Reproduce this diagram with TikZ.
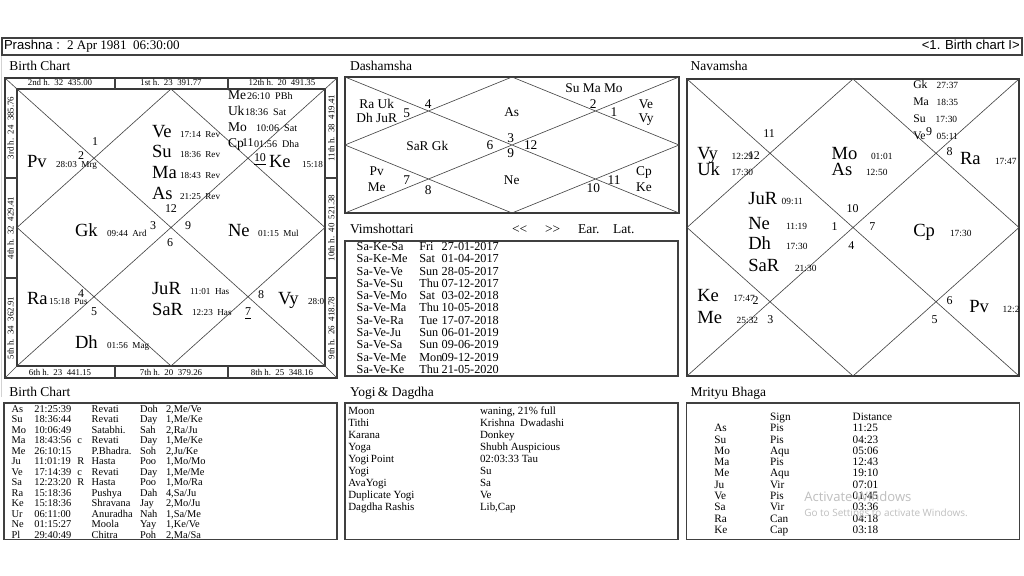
\documentclass[tikz,border=0pt]{standalone}
\usepackage{fontspec}
\setmainfont{Liberation Serif}
\setsansfont{Liberation Sans}
\newfontfamily\wmfont{Open Sans}
\newcommand\FBig{\fontsize{13.2}{14}\selectfont}
\newcommand\FNav{\fontsize{13.2}{14}\selectfont}
\newcommand\FMid{\fontsize{9.6}{10}\selectfont}
\newcommand\FMsm{\fontsize{7.2}{8}\selectfont}
\newcommand\FNmid{\fontsize{8.3}{9}\selectfont}
\newcommand\FSm{\fontsize{6.5}{7}\selectfont}
\newcommand\FNsm{\fontsize{6.7}{7}\selectfont}
\newcommand\FHouse{\fontsize{8.5}{9}\selectfont}
\newcommand\FStrip{\fontsize{6.3}{7}\selectfont}
\newcommand\FTitle{\fontsize{9.6}{11}\selectfont}
\newcommand\FHead{\fontsize{9.3}{10}\selectfont}
\newcommand\FDash{\fontsize{9.5}{10}\selectfont}
\newcommand\FVim{\fontsize{8.7}{9}\selectfont}
\newcommand\FTab{\fontsize{7.4}{8}\selectfont}
\newcommand\FYogi{\fontsize{7.8}{8}\selectfont}
\newcommand\FMrit{\fontsize{8}{8}\selectfont}
\newcommand\BRow[8]{%
  \node[txt] (bta#1) at (11.7,#2) {#3};
  \node[txt] (btb#1) at (34.3,#2) {#4};
  \node[txt] (btc#1) at (77.3,#2) {#5};
  \node[txt] (btd#1) at (91.7,#2) {#6};
  \node[txt] (bte#1) at (140,#2) {#7};
  \node[txt] (btf#1) at (166,#2) {#8};}
\newcommand\YRow[4]{%
  \node[txt] (yka#1) at (348.3,#2) {#3};
  \node[txt] (ykb#1) at (480,#2) {#4};}
\newcommand\BPl[6]{%
  \node[txt,font=\FBig] (#1) at (#2,#3) {#4};
  \node[txt,font=\FSm] (#1s) at (#5,#3) {#6};}
\newcommand\MPl[6]{%
  \node[txt,font=\FMid] (#1) at (#2,#3) {#4};
  \node[txt,font=\FMsm] (#1s) at (#5,#3) {#6};}
\newcommand\NPl[6]{%
  \node[txt,font=\FNav] (#1) at (#2,#3) {#4};
  \node[txt,font=\FNsm] (#1s) at (#5,#3) {#6};}
\newcommand\NMPl[6]{%
  \node[txt,font=\FNmid] (#1) at (#2,#3) {#4};
  \node[txt,font=\FNsm] (#1s) at (#5,#3) {#6};}
\newcommand\HN[4]{\node[txt,font=\FHouse] (#1) at (#2,#3) {#4};}
\newcommand\DN[4]{\node[ctr,font=\FDash] (#1) at (#2,#3) {#4};}
\begin{document}
\begin{tikzpicture}[x=0.025cm,y=-0.025cm,
  txt/.style={anchor=base west,inner sep=0pt,outer sep=0pt},
  ctr/.style={anchor=base,inner sep=0pt,outer sep=0pt},
  frame/.style={draw=gray!45!black,line width=1.2pt},
  tframe/.style={draw=gray!50!black,line width=0.8pt},
  cline/.style={draw=gray!55!black,line width=0.45pt},
  ]
\useasboundingbox (0,0) rectangle (1024,576);
\fill[white] (0,0) rectangle (1024,576);
% outer light frame
\draw[gray!35,line width=0.6pt] (1.5,397) -- (1.5,37);
% top bar
\draw[tframe] (2,38) rectangle (1022,55);
\node[txt,font=\sffamily\FHead] (prl) at (4,50) {Prashna :};
\node[txt,font=\FHead] (prd) at (67,50) {2 Apr 1981\ \ 06:30:00};
\node[anchor=base east,inner sep=0pt,font=\sffamily\FHead] (prr) at (1020,50) {<1. Birth chart I>};

% titles
\node[txt,font=\FTitle] (t1) at (9.3,71) {Birth Chart};
\node[txt,font=\FTitle] (t2) at (350,71) {Dashamsha};
\node[txt,font=\FTitle] (t3) at (690.7,71) {Navamsha};
\node[txt,font=\FTitle] (t4) at (350,233.3) {Vimshottari};
\node[txt,font=\FTitle] (t4a) at (512,233.3) {<{}<};
\node[txt,font=\FTitle] (t4b) at (545,233.3) {>{}>};
\node[txt,font=\FTitle] (t4c) at (578,233.3) {Ear.};
\node[txt,font=\FTitle] (t4d) at (613,233.3) {Lat.};
\node[txt,font=\FTitle] (t5) at (9.3,396.7) {Birth Chart};
\node[txt,font=\FTitle] (t6) at (350,396.7) {Yogi\,\& Dagdha};
\node[txt,font=\FTitle] (t7) at (690.7,396.7) {Mrityu Bhaga};

% ===== Birth chart =====
\draw[frame] (5,78) rectangle (337,378);
\draw[frame] (17,89) rectangle (325,366);
\draw[tframe] (115,78) -- (115,89) (228,78) -- (228,89)
  (115,366) -- (115,378) (228,366) -- (228,378)
  (5,178) -- (17,178) (5,278) -- (17,278)
  (325,178) -- (337,178) (325,278) -- (337,278);
\draw[cline] (5,78) -- (17,89) (337,78) -- (325,89) (5,378) -- (17,366) (337,378) -- (325,366);
\draw[cline] (17,89) -- (325,366) (17,366) -- (325,89)
  (171,89) -- (325,227.5) -- (171,366) -- (17,227.5) -- cycle;
\begin{scope}[font=\FStrip]
\node[ctr] (s1) at (60,86) {2nd h.\ \ 32\ \ 435.00};
\node[ctr] (s2) at (171,86) {1st h.\ \ 23\ \ 391.77};
\node[ctr] (s3) at (282,86) {12th h.\ \ 20\ \ 491.35};
\node[ctr] (s4) at (60,375) {6th h.\ \ 23\ \ 441.15};
\node[ctr] (s5) at (171,375) {7th h.\ \ 20\ \ 379.26};
\node[ctr] (s6) at (282,375) {8th h.\ \ 25\ \ 348.16};
\node[inner sep=0pt,rotate=90] (s7) at (10.6,128) {3rd h.\ \ 24\ \ 385.76};
\node[inner sep=0pt,rotate=90] (s8) at (10.6,228) {4th h.\ \ 32\ \ 429.41};
\node[inner sep=0pt,rotate=90] (s9) at (10.6,328) {5th h.\ \ 34\ \ 362.91};
\node[inner sep=0pt,rotate=90] (s10) at (331.4,128) {11th h.\ \ 38\ \ 419.41};
\node[inner sep=0pt,rotate=90] (s11) at (331.4,228) {10th h.\ \ 40\ \ 521.38};
\node[inner sep=0pt,rotate=90] (s12) at (331.4,328) {9th h.\ \ 26\ \ 418.78};
\end{scope}
\begin{scope}
\clip (17,89) rectangle (325,366);
\BPl{bVe}{152}{137.7}{Ve}{180}{17:14\ \ Rev}
\BPl{bSu}{152}{158}{Su}{180}{18:36\ \ Rev}
\BPl{bMa}{152}{179}{Ma}{180}{18:43\ \ Rev}
\BPl{bAs}{152}{200}{As}{180}{21:25\ \ Rev}
\BPl{bPv}{27}{168}{Pv}{56}{28:03\ \ Mrg}
\BPl{bGk}{75}{237}{Gk}{107}{09:44\ \ Ard}
\BPl{bNe}{228}{237}{Ne}{258}{01:15\ \ Mul}
\BPl{bKe}{269}{168}{Ke}{302}{15:18}
\BPl{bRa}{27}{305}{Ra}{49}{15:18\ \ Pus}
\BPl{bJu}{152}{295}{JuR}{190}{11:01\ \ Has}
\BPl{bSa}{152}{316}{SaR}{192}{12:23\ \ Has}
\BPl{bVy}{278}{305}{Vy}{308}{28:0}
\BPl{bDh}{75}{349}{Dh}{107}{01:56\ \ Mag}
\MPl{bMe}{228}{99.5}{Me}{247}{26:10\ \ PBh}
\MPl{bUk}{228}{116}{Uk}{245}{18:36\ \ Sat}
\MPl{bMo}{228}{132}{Mo}{256}{10:06\ \ Sat}
\MPl{bCp}{228}{148}{Cp}{254}{01:56\ \ Dha}
\HN{bh1}{92}{146}{1}
\HN{bh2}{78}{160}{2}
\HN{bh11}{242}{147}{11}
\HN{bh10}{254}{162}{\underline{10}}
\HN{bh12}{165}{213}{12}
\HN{bh3}{150}{230}{3}
\HN{bh9}{185}{230}{9}
\HN{bh6}{167}{247}{6}
\HN{bh4}{78}{298}{4}
\HN{bh5}{91}{316}{5}
\HN{bh8}{258}{299}{8}
\HN{bh7}{245}{316}{\underline{7}}
\end{scope}

% ===== Dashamsha =====
\draw[frame] (345,77) rectangle (679,213);
\draw[cline] (345,77) -- (679,213) (345,213) -- (679,77)
  (512,77) -- (679,145) -- (512,213) -- (345,145) -- cycle;
\DN{dSu}{594}{92.5}{Su Ma Mo}
\DN{d2}{593.3}{108.7}{2}
\DN{d1}{614}{116.7}{1}
\DN{dVe}{646}{108.7}{Ve}
\DN{dVy}{646}{122.7}{Vy}
\DN{dRa}{376.7}{108.7}{Ra Uk}
\DN{dDh}{376.7}{122.7}{Dh JuR}
\DN{d5}{406.7}{117.7}{5}
\DN{d4}{428.3}{108.7}{4}
\DN{dAs}{511.7}{116.7}{As}
\DN{d3}{510.7}{142.7}{3}
\DN{d6}{490}{149.4}{6}
\DN{d12}{530.7}{149.4}{12}
\DN{d9}{510.7}{157.7}{9}
\DN{dSa}{427.3}{150.4}{SaR Gk}
\DN{dPv}{376.7}{176}{Pv}
\DN{dMe}{376.7}{191.7}{Me}
\DN{d7}{406.7}{184.4}{7}
\DN{d8}{428.3}{194.4}{8}
\DN{dNe}{511.7}{184.4}{Ne}
\DN{d10}{593.3}{192.7}{10}
\DN{d11}{614}{184.4}{11}
\DN{dCp}{644}{176}{Cp}
\DN{dKe}{644}{191.7}{Ke}

% ===== Vimshottari =====
\draw[tframe] (345,241) rectangle (678,376);
\begin{scope}[font=\FVim]
\foreach \a/\b/\c [count=\i from 0] in {Sa-Ke-Sa/Fri/27-01-2017,Sa-Ke-Me/Sat/01-04-2017,Sa-Ve-Ve/Sun/28-05-2017,Sa-Ve-Su/Thu/07-12-2017,Sa-Ve-Mo/Sat/03-02-2018,Sa-Ve-Ma/Thu/10-05-2018,Sa-Ve-Ra/Tue/17-07-2018,Sa-Ve-Ju/Sun/06-01-2019,Sa-Ve-Sa/Sun/09-06-2019,Sa-Ve-Me/Mon/09-12-2019,Sa-Ve-Ke/Thu/21-05-2020}{
  \node[txt] (vna\i) at (356.7,{250.7+12.26*\i}) {\a};
  \node[txt] (vnb\i) at (419.3,{250.7+12.26*\i}) {\b};
  \node[txt] (vnc\i) at (441.7,{250.7+12.26*\i}) {\c};
}
\end{scope}

% ===== Navamsha =====
\draw[frame] (687,79) rectangle (1019,376);
\draw[cline] (687,79) -- (1019,376) (687,376) -- (1019,79)
  (853,79) -- (1019,227.5) -- (853,376) -- (687,227.5) -- cycle;
\begin{scope}
\clip (687,79) rectangle (1019,376);
\NMPl{nGk}{913.3}{88.7}{Gk}{936.7}{27:37}
\NMPl{nMa}{913.3}{105.3}{Ma}{936.7}{18:35}
\NMPl{nSu}{913.3}{122.3}{Su}{935.7}{17:30}
\NMPl{nVe}{913.3}{139.3}{Ve}{936.7}{05:11}
\NPl{nVy}{697.3}{159.5}{Vy}{731.7}{12:29}
\NPl{nUk}{697.3}{176}{Uk}{731.7}{17:30}
\NPl{nMo}{831.7}{159.5}{Mo}{871}{01:01}
\NPl{nAs}{831.7}{176}{As}{866}{12:50}
\NPl{nRa}{960}{164.3}{Ra}{995}{17:47}
\NPl{nJu}{748.3}{205}{JuR}{781.7}{09:11}
\NPl{nNe}{748.3}{229.3}{Ne}{786}{11:19}
\NPl{nDh}{748.3}{249.3}{Dh}{786}{17:30}
\NPl{nSa}{748.3}{271.7}{SaR}{795}{21:30}
\NPl{nCp}{913.3}{236.7}{Cp}{950}{17:30}
\NPl{nKe}{697.3}{301.7}{Ke}{733.3}{17:47}
\NPl{nMe}{697.3}{323.3}{Me}{736.7}{25:32}
\NPl{nPv}{969.3}{312.7}{Pv}{1002.7}{12:2}
\HN{nh9}{926}{136}{9}
\HN{nh11}{763.3}{137.7}{11}
\HN{nh12}{748}{160}{12}
\HN{nh8}{946.7}{156}{8}
\HN{nh10}{846.7}{212.7}{10}
\HN{nh1}{831.7}{230.7}{1}
\HN{nh7}{869.3}{230.7}{7}
\HN{nh4}{848.3}{249.3}{4}
\HN{nh2}{752.7}{305}{2}
\HN{nh3}{767.3}{323.3}{3}
\HN{nh6}{946.7}{305}{6}
\HN{nh5}{931.7}{323.3}{5}
\end{scope}

% ===== Birth chart table =====
\draw[tframe] (4,403) rectangle (337,539.5);
\begin{scope}[font=\FTab]
\BRow{0}{412.3}{As}{21:25:39}{}{Revati}{Doh}{2,Me/Ve}
\BRow{1}{422.8}{Su}{18:36:44}{}{Revati}{Day}{1,Me/Ke}
\BRow{2}{433.3}{Mo}{10:06:49}{}{Satabhi.}{Sah}{2,Ra/Ju}
\BRow{3}{443.8}{Ma}{18:43:56}{c}{Revati}{Day}{1,Me/Ke}
\BRow{4}{454.3}{Me}{26:10:15}{}{P.Bhadra.}{Soh}{2,Ju/Ke}
\BRow{5}{464.8}{Ju}{11:01:19}{R}{Hasta}{Poo}{1,Mo/Mo}
\BRow{6}{475.3}{Ve}{17:14:39}{c}{Revati}{Day}{1,Me/Me}
\BRow{7}{485.8}{Sa}{12:23:20}{R}{Hasta}{Poo}{1,Mo/Ra}
\BRow{8}{496.3}{Ra}{15:18:36}{}{Pushya}{Dah}{4,Sa/Ju}
\BRow{9}{506.8}{Ke}{15:18:36}{}{Shravana}{Jay}{2,Mo/Ju}
\BRow{10}{517.3}{Ur}{06:11:00}{}{Anuradha}{Nah}{1,Sa/Me}
\BRow{11}{527.8}{Ne}{01:15:27}{}{Moola}{Yay}{1,Ke/Ve}
\BRow{12}{538.3}{Pl}{29:40:49}{}{Chitra}{Poh}{2,Ma/Sa}
\end{scope}

% ===== Yogi & Dagdha =====
\draw[tframe] (345,403) rectangle (678,539.5);
\begin{scope}[font=\FYogi]
\YRow{0}{414}{Moon}{waning, 21\% full}
\YRow{1}{426}{Tithi}{Krishna\ \ Dwadashi}
\YRow{2}{438}{Karana}{Donkey}
\YRow{3}{450}{Yoga}{Shubh Auspicious}
\YRow{4}{462}{Yogi\,Point}{02:03:33 Tau}
\YRow{5}{474}{Yogi}{Su}
\YRow{6}{486}{AvaYogi}{Sa}
\YRow{7}{498}{Duplicate Yogi}{Ve}
\YRow{8}{510}{Dagdha Rashis}{Lib,Cap}
\end{scope}

% ===== Mrityu Bhaga =====
\draw[tframe] (686.7,403) rectangle (1019.3,539.5);
\begin{scope}[font=\FMrit]
\node[txt] (mhs) at (770,420.7) {Sign};
\node[txt] (mhd) at (852.7,420.7) {Distance};
\foreach \a/\b/\c [count=\i from 0] in {As/Pis/11:25,Su/Pis/04:23,Mo/Aqu/05:06,Ma/Pis/12:43,Me/Aqu/19:10,Ju/Vir/07:01,Ve/Pis/01:45,Sa/Vir/03:36,Ra/Can/04:18,Ke/Cap/03:18}{
  \node[txt] (mra\i) at (714.3,{431.7+11.3*\i}) {\a};
  \node[txt] (mrb\i) at (770,{431.7+11.3*\i}) {\b};
  \node[txt] (mrc\i) at (852.7,{431.7+11.3*\i}) {\c};
}
\end{scope}
\node[txt,text=gray!50,font=\wmfont\fontsize{9.3}{10}\selectfont] (wm1) at (804.3,501.5) {Activate Windows};
\node[txt,text=gray!50,font=\wmfont\fontsize{7.1}{8}\selectfont] (wm2) at (804.3,516.7) {Go to Settings to activate Windows.};
\end{tikzpicture}
\end{document}
